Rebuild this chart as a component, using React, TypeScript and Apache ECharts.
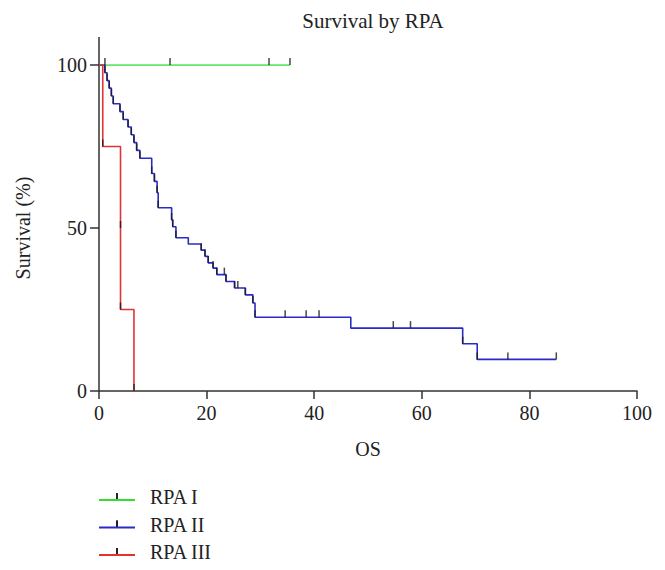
import React, { useEffect, useRef } from "react";
import * as echarts from "echarts";

const xTicks = [0, 20, 40, 60, 80, 100];
const yTicks = [0, 50, 100];

const greenTimes = [0, 35.5];
const greenSurv = [100, 100];
const greenMarksT = [1.1, 13.2, 31.6, 35.5];
const greenMarksS = [100, 100, 100, 100];

const blueTimes = [0, 1.1, 1.5, 1.9, 2.3, 2.65, 3.9, 4.5, 5.4, 6.0, 6.5, 7.0, 7.6, 9.8, 10.3, 10.8, 11.0, 13.5, 13.7, 14.3, 16.6, 19.0, 19.7, 20.3, 21.2, 21.9, 23.6, 25.2, 27.2, 28.6, 29.0, 46.8, 67.6, 70.3, 85.0];
const blueSurv = [100, 97.6, 95.2, 92.9, 90.5, 88.1, 85.7, 83.3, 81.0, 78.6, 76.2, 73.8, 71.4, 66.7, 64.3, 60.8, 56.2, 52.5, 50.4, 47.0, 45.1, 43.2, 41.3, 39.3, 37.7, 35.7, 33.6, 31.6, 29.5, 27.0, 22.6, 19.3, 14.5, 9.7, 9.7];
const blueMarksT = [1.1, 1.5, 1.9, 2.3, 2.65, 3.9, 4.5, 5.4, 6.0, 6.5, 7.0, 7.6, 9.8, 10.3, 10.8, 11.0, 13.5, 13.7, 14.3, 19.0, 19.7, 20.3, 21.2, 21.9, 23.3, 23.6, 25.2, 25.8, 27.2, 28.6, 29.0, 34.6, 38.5, 40.9, 54.7, 57.9, 67.6, 70.3, 76.0, 85.0];
const blueMarksS = [97.6, 95.2, 92.9, 90.5, 88.1, 85.7, 83.3, 81.0, 78.6, 76.2, 73.8, 71.4, 66.7, 64.3, 60.8, 56.2, 52.5, 50.4, 47.0, 43.2, 41.3, 39.3, 37.7, 35.7, 35.7, 33.6, 31.6, 31.6, 29.5, 27.0, 22.6, 22.6, 22.6, 22.6, 19.3, 19.3, 14.5, 9.7, 9.7, 9.7];

const redTimes = [0, 0.7, 4.0, 6.5];
const redSurv = [100, 75, 25, 0];
const redMarksT = [0.7, 4.0, 4.0, 6.5];
const redMarksS = [75, 50, 25, 0];

const seriesNames = ["RPA I", "RPA II", "RPA III"];
const colors = ["#33dd33", "#2b2bc8", "#e03434"];

const FONT = "'Liberation Serif', 'DejaVu Serif', serif";

function pairs(t: number[], s: number[]) {
  return t.map((v, i) => [v, s[i]]);
}

export default function App() {
  const ref = useRef<HTMLDivElement>(null);
  useEffect(() => {
    if (!ref.current) return;
    const chart = echarts.init(ref.current, undefined, { renderer: "svg" });
    const legendIcon = "path://M0,6h36v1.8h-36z M17.1,0h1.8v6h-1.8z";
    const gridLeft = 99;
    const gridTop = 65;
    const legendTop = 487;
    const legendRow = 27.5;
    const lineSeries = [
      { name: seriesNames[0], t: greenTimes, s: greenSurv, c: colors[0] },
      { name: seriesNames[1], t: blueTimes, s: blueSurv, c: colors[1] },
      { name: seriesNames[2], t: redTimes, s: redSurv, c: colors[2] },
    ].map((d) => ({
      type: "line",
      name: d.name,
      step: "end",
      data: pairs(d.t, d.s),
      showSymbol: false,
      symbol: "none",
      lineStyle: { color: d.c, width: 1.6 },
      itemStyle: { color: d.c },
      z: 2,
    }));
    const markSeries = [
      pairs(greenMarksT, greenMarksS),
      pairs(blueMarksT, blueMarksS),
      pairs(redMarksT, redMarksS),
    ].map((data, i) => ({
      type: "scatter",
      name: "marks" + i,
      data,
      symbol: "rect",
      symbolSize: [1.5, 7],
      symbolOffset: [0, -3.5],
      itemStyle: { color: "#1a1a1a" },
      silent: true,
      z: 3,
    }));
    chart.setOption({
      animation: false,
      backgroundColor: "#ffffff",
      textStyle: { fontFamily: FONT },
      title: {
        text: "Survival by RPA",
        left: 368,
        textAlign: "center",
        top: 5,
        textStyle: { fontFamily: FONT, fontSize: 21, fontWeight: "normal", color: "#222" },
      },
      legend: {
        data: seriesNames.map((n) => ({ name: n, icon: legendIcon })),
        orient: "vertical",
        left: gridLeft,
        top: legendTop,
        padding: 0,
        itemWidth: 36,
        itemHeight: 7.8,
        itemGap: 7.5,
        textStyle: { fontFamily: FONT, fontSize: 20, color: "#222", padding: [0, 0, 0, 10], lineHeight: 20 },
      },
      graphic: [
        {
          type: "line",
          silent: true,
          shape: { x1: gridLeft, y1: 37, x2: gridLeft, y2: gridTop },
          style: { stroke: "#333", lineWidth: 1.5 },
        },
        ...seriesNames.map((_, i) => ({
          type: "rect",
          silent: true,
          z: 10,
          shape: { x: gridLeft + 17.1, y: legendTop + 10 + i * legendRow - 3.9, width: 1.8, height: 6 },
          style: { fill: "#1a1a1a" },
        })),
      ],
      grid: { left: gridLeft, right: 28, top: gridTop, bottom: 179 },
      xAxis: {
        type: "value",
        min: 0,
        max: 100,
        interval: 20,
        name: "OS",
        nameLocation: "middle",
        nameGap: 48,
        nameTextStyle: { fontFamily: FONT, fontSize: 20, color: "#222" },
        axisLine: { onZero: false, lineStyle: { color: "#333", width: 1.5 } },
        axisTick: { length: 8, lineStyle: { color: "#333", width: 1.5 } },
        axisLabel: { fontFamily: FONT, fontSize: 20, color: "#222", margin: 12, customValues: xTicks },
        splitLine: { show: false },
      },
      yAxis: {
        type: "value",
        min: 0,
        max: 100,
        interval: 50,
        name: "Survival (%)",
        nameLocation: "middle",
        nameGap: 66,
        nameTextStyle: { fontFamily: FONT, fontSize: 20, color: "#222" },
        axisLine: { show: true, onZero: false, lineStyle: { color: "#333", width: 1.5 } },
        axisTick: { show: true, length: 9, customValues: yTicks, lineStyle: { color: "#333", width: 1.5 } },
        axisLabel: { fontFamily: FONT, fontSize: 20, color: "#222", margin: 12, customValues: yTicks },
        splitLine: { show: false },
      },
      series: [...lineSeries, ...markSeries],
    });
    return () => chart.dispose();
  }, []);
  return <div ref={ref} style={{ width: 665, height: 570, position: "absolute", left: 0, top: 0 }} />;
}
